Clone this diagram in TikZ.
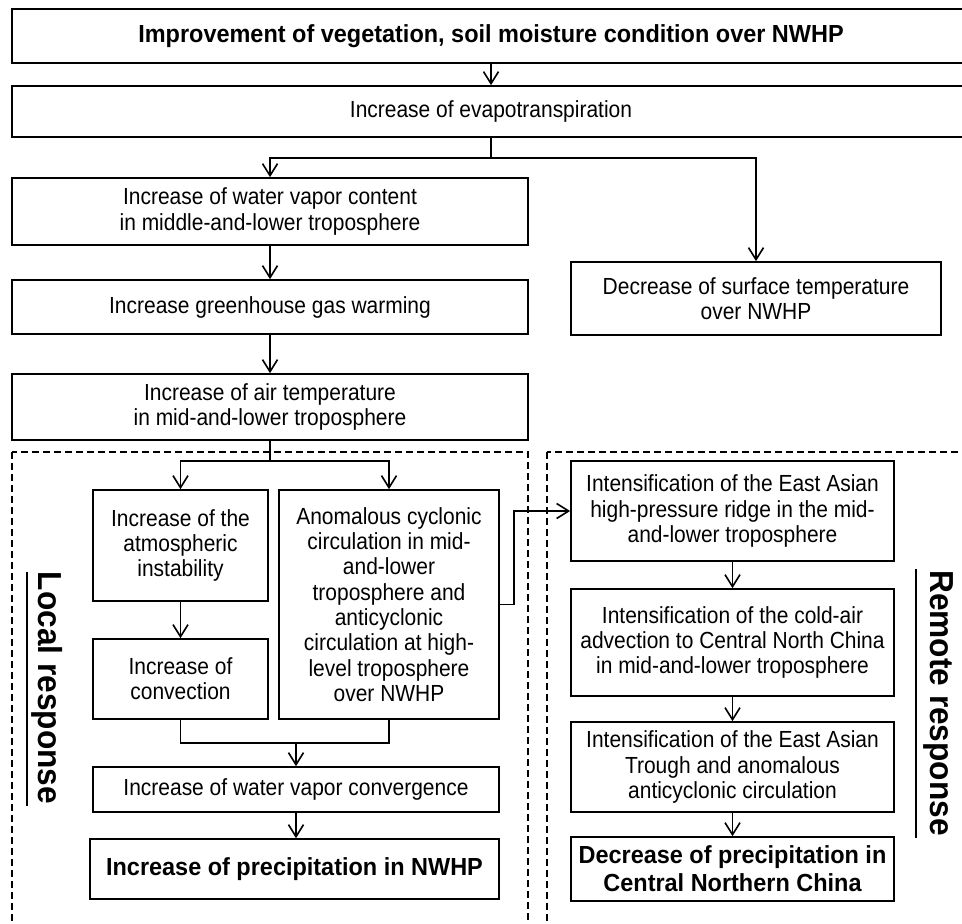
\documentclass[tikz,border=0pt]{standalone}
\usepackage{fontspec}
\setmainfont{Liberation Sans}
\newfontfamily\regf{Liberation Sans}[FakeStretch=0.9]
\newfontfamily\boldf{Liberation Sans Bold}[FakeStretch=0.95]
\usetikzlibrary{arrows.meta}
\begin{document}
\begin{tikzpicture}[x=1pt,y=-1pt,
  box/.style={draw, line width=1.7pt, inner sep=0pt, align=center, font=\regf\fontsize{23.3}{25.3}\selectfont},
  bbox/.style={box, font=\boldf\fontsize{24.7}{28}\selectfont},
  arr/.style={line width=1.6pt, -{Straight Barb[length=12pt,width=15pt]}},
  ln/.style={line width=1.6pt},
  dbox/.style={draw, line width=1.9pt, dash pattern=on 7pt off 4pt},
  side/.style={rotate=-90, font=\boldf\fontsize{33.3}{36}\selectfont, inner sep=0pt}
]
\useasboundingbox (0,0) rectangle (962,924);
\fill[white] (0,0) rectangle (962,924);

% dashed regions
\draw[dbox] (12,452) rectangle (528,945);
\draw[dbox] (547,452) rectangle (980,945);

% top chain
\node[bbox, minimum width=958pt, minimum height=54pt] (T1) at (491,36) {Improvement of vegetation, soil moisture condition over NWHP};
\node[box, minimum width=958pt, minimum height=51pt] (T2) at (491,111.5) {Increase of evapotranspiration};
\node[box, minimum width=516pt, minimum height=67pt] (B3) at (270,211.5) {Increase of water vapor content\\in middle-and-lower troposphere};
\node[box, minimum width=516pt, minimum height=54pt] (B4) at (270,307) {Increase greenhouse gas warming};
\node[box, minimum width=516pt, minimum height=66pt] (B5) at (270,407) {Increase of air temperature\\in mid-and-lower troposphere};
\node[box, minimum width=370pt, minimum height=73pt] (RT) at (756,298.5) {Decrease of surface temperature\\over NWHP};

% local response boxes
\node[box, minimum width=175pt, minimum height=111pt] (L1) at (180.5,545.5) {Increase of the\\atmospheric\\instability};
\node[box, minimum width=175pt, minimum height=80pt] (L2) at (180.5,679) {Increase of\\convection};
\node[box, minimum width=220pt, minimum height=229pt] (L3) at (389,604.5) {Anomalous cyclonic\\circulation in mid-\\and-lower\\troposphere and\\anticyclonic\\circulation at high-\\level troposphere\\over NWHP};
\node[box, minimum width=406pt, minimum height=45pt] (L4) at (296,789.5) {Increase of water vapor convergence};
\node[bbox, minimum width=409pt, minimum height=60pt] (L5) at (294.5,869) {Increase of precipitation in NWHP};

% remote response boxes
\node[box, minimum width=323pt, minimum height=100pt] (R1) at (732.5,511) {Intensification of the East Asian\\high-pressure ridge in the mid-\\and-lower troposphere};
\node[box, minimum width=323pt, minimum height=107pt] (R2) at (732.5,642.5) {Intensification of the cold-air\\advection to Central North China\\in mid-and-lower troposphere};
\node[box, minimum width=323pt, minimum height=90pt] (R3) at (732.5,767) {Intensification of the East Asian\\Trough and anomalous\\anticyclonic circulation};
\node[bbox, minimum width=323pt, minimum height=64pt] (R4) at (732.5,869) {Decrease of precipitation in\\Central Northern China};

% side labels
\node[side] (LR) at (47,688) {Local response};
\node[side] (RR) at (938,703) {Remote response};
\draw[line width=1.4pt] (27,572) -- (27,806);
\draw[line width=1.4pt] (916,569) -- (916,838);

% junction coordinates
\coordinate (J1) at (491,158);
\coordinate (J2) at (270,461);
\coordinate (J3) at (296,743);
\coordinate (K) at (514,511);

% connectors
\draw[arr] (T1.south) -- (T2.north);
\draw[ln] (T2.south) -- (J1);
\draw[arr] (J1) -| (B3.north);
\draw[arr] (J1) -| (RT.north);
\draw[arr] (B3.south) -- (B4.north);
\draw[arr] (B4.south) -- (B5.north);
\draw[ln] (B5.south) -- (J2);
\draw[arr] (J2) -| (L1.north);
\draw[arr] (J2) -| (L3.north);
\draw[arr] (L1.south) -- (L2.north);
\draw[ln] (L2.south) |- (J3) -| (L3.south);
\draw[arr] (J3) -- (L4.north);
\draw[arr] (L4.south) -- (L4.south |- L5.north);
\draw[arr] (L3.east) -| (K) -- (R1.west);
\draw[arr] (R1.south) -- (R2.north);
\draw[arr] (R2.south) -- (R3.north);
\draw[arr] (R3.south) -- (R4.north);
\end{tikzpicture}
\end{document}
